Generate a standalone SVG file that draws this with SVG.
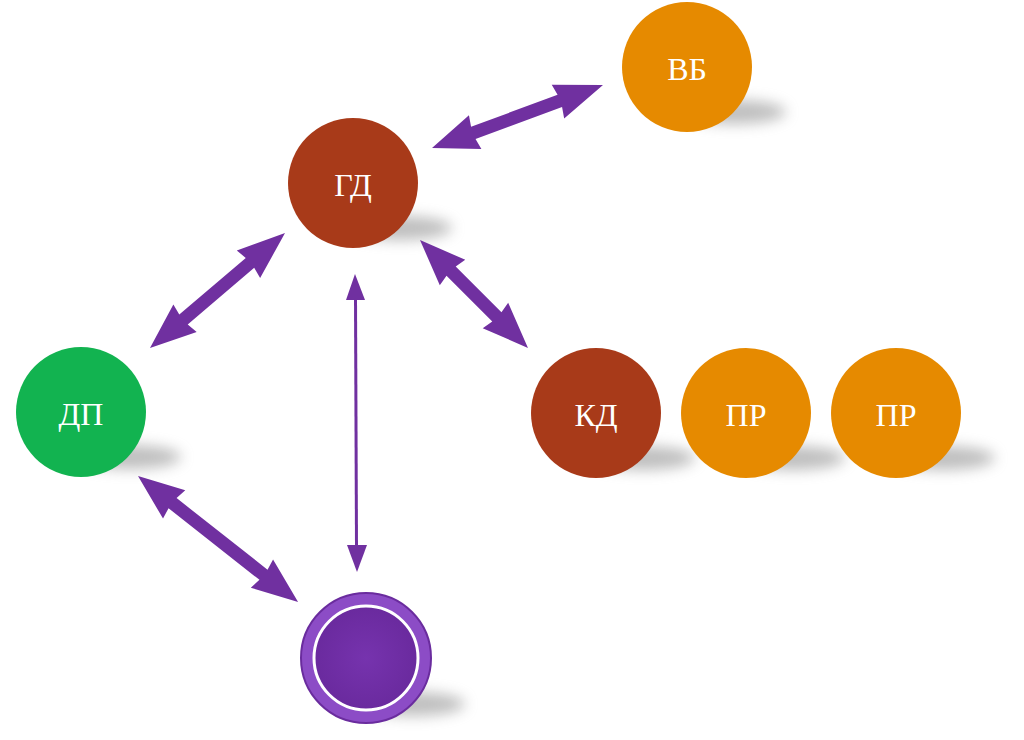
<svg xmlns="http://www.w3.org/2000/svg" width="1024" height="740" viewBox="0 0 1024 740">
<defs>
<filter id="blur" x="-50%" y="-100%" width="200%" height="300%"><feGaussianBlur stdDeviation="7"/></filter>
<radialGradient id="pg" cx="50%" cy="50%" r="50%"><stop offset="0" stop-color="#7633AE"/><stop offset="1" stop-color="#6A2A9E"/></radialGradient>
</defs>
<style>
.sh{fill:#808080;opacity:.5;filter:url(#blur)}
.lbl{font-family:"Liberation Serif","DejaVu Serif",serif;font-size:32px;fill:#fff;text-anchor:middle;dominant-baseline:central}
.arr{fill:#7030A0}
.red{fill:#A83A19}
.org{fill:#E68A00}
.grn{fill:#12B350}
</style>
<rect width="1024" height="740" fill="#fff"/>
<g id="shadows">
<ellipse class="sh" cx="400" cy="228" rx="52" ry="12"/>
<ellipse class="sh" cx="734" cy="112" rx="52" ry="12"/>
<ellipse class="sh" cx="129" cy="457" rx="52" ry="12"/>
<ellipse class="sh" cx="643" cy="458" rx="52" ry="12"/>
<ellipse class="sh" cx="793" cy="458" rx="52" ry="12"/>
<ellipse class="sh" cx="943" cy="458" rx="52" ry="12"/>
<ellipse class="sh" cx="413" cy="704" rx="52" ry="12"/>
</g>
<g id="connectors">
<polygon class="arr" transform="translate(432,148) rotate(-20.2)" points="0,0 46,-18 44,-6.5 136.2,-6.5 134.2,-18 182.2,0 134.2,18 136.2,6.5 44,6.5 46,18"/>
<polygon class="arr" transform="translate(150,348) rotate(-40.4)" points="0,0 46,-18 44,-6.5 131.3,-6.5 129.3,-18 177.3,0 129.3,18 131.3,6.5 44,6.5 46,18"/>
<polygon class="arr" transform="translate(420,240) rotate(45)" points="0,0 46,-18 44,-6.5 108.7,-6.5 106.7,-18 152.7,0 106.7,18 108.7,6.5 44,6.5 46,18"/>
<polygon class="arr" transform="translate(138,476) rotate(38.2)" points="0,0 46,-18 44,-6.5 159.7,-6.5 157.7,-18 203.7,0 157.7,18 159.7,6.5 44,6.5 46,18"/>
<line x1="355.5" y1="298" x2="356.5" y2="548" stroke="#7030A0" stroke-width="3"/>
<polygon class="arr" points="355,274 346,300 365,300"/>
<polygon class="arr" points="357,572 347,545 367,545"/>
</g>
<g id="node-gd"><circle class="red" cx="353" cy="183" r="65"/><text class="lbl" x="353" y="185">ГД</text></g>
<g id="node-vb"><circle class="org" cx="687" cy="67" r="65"/><text class="lbl" x="687" y="69">ВБ</text></g>
<g id="node-dp"><circle class="grn" cx="81" cy="412" r="65"/><text class="lbl" x="81" y="414">ДП</text></g>
<g id="node-kd"><circle class="red" cx="596" cy="413" r="65"/><text class="lbl" x="596" y="415">КД</text></g>
<g id="node-pr1"><circle class="org" cx="746" cy="413" r="65"/><text class="lbl" x="746" y="415">ПР</text></g>
<g id="node-pr2"><circle class="org" cx="896" cy="413" r="65"/><text class="lbl" x="896" y="415">ПР</text></g>
<g id="node-purple"><circle cx="366" cy="658" r="65" fill="#8C4CC6" stroke="#6A2C9E" stroke-width="2"/><circle cx="366" cy="658" r="52" fill="url(#pg)" stroke="#fff" stroke-width="3"/></g>
</svg>
